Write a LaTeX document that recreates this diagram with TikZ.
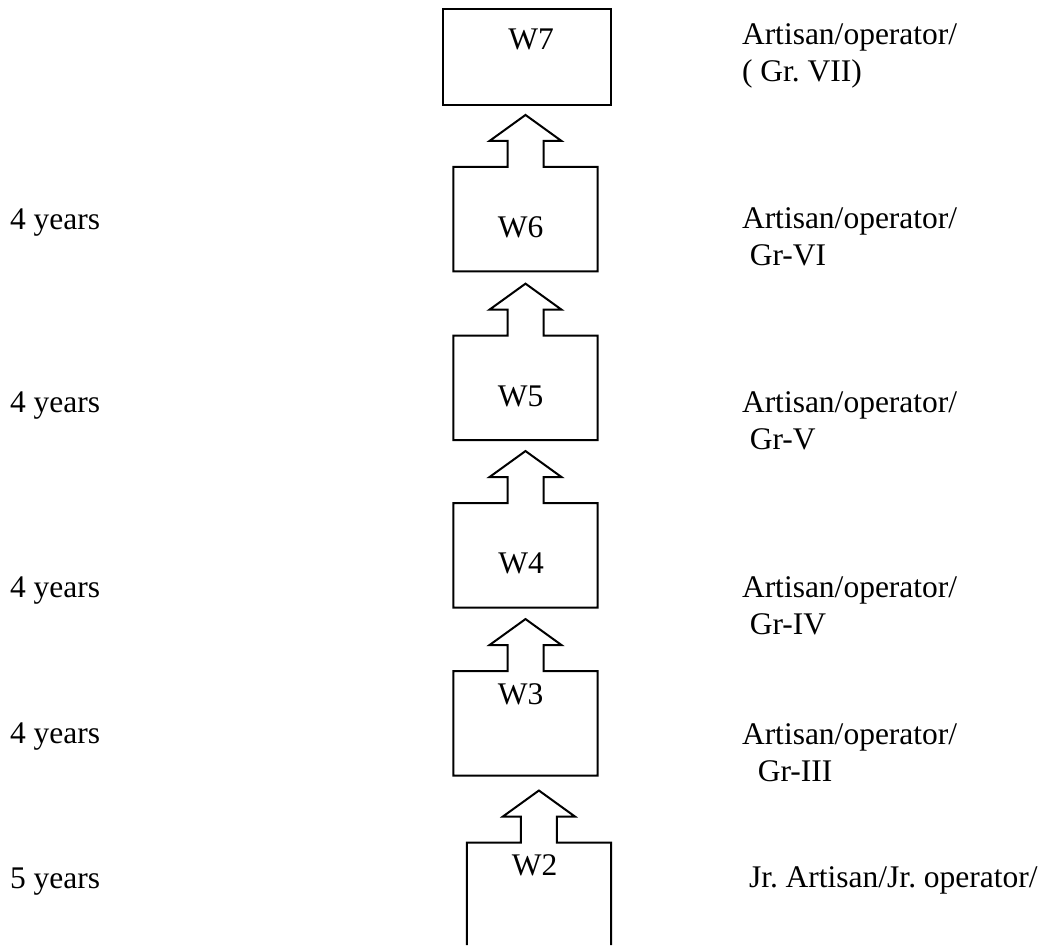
\documentclass[tikz,border=0pt]{standalone}
\usepackage{fontspec}
\setmainfont{Liberation Serif}
\usetikzlibrary{calc}
\frenchspacing
\tikzset{
  lab/.style={font=\fontsize{31.5}{37}\selectfont, inner sep=0pt, outer sep=0pt},
  outline/.style={draw=black, line width=2pt, line join=miter},
  boxarea/.style={inner sep=0pt, outer sep=0pt, minimum width=144.4pt, minimum height=104.5pt},
}
\newcommand{\arrowbox}[1]{%
  \draw[outline] ($(#1.north)+(-18,0)$) -| (#1.south west) -| (#1.north east)
    -- ($(#1.north)+(18,0)$) -- ++(0,-26) -- ++(18,0) -- ($(#1.north)+(0,-52)$)
    -- ($(#1.north)+(-36,-26)$) -- ++(18,0) -- cycle;}
\begin{document}
\begin{tikzpicture}[x=1pt,y=-1pt]
\useasboundingbox (0,0) rectangle (1051,945);
% boxes
\node[boxarea, outline, minimum width=168pt, minimum height=96pt] (b7) at (527,57) {};
\node[boxarea] (b6) at (525.5,219.2) {};
\node[boxarea] (b5) at (525.5,387.9) {};
\node[boxarea] (b4) at (525.5,555.3) {};
\node[boxarea] (b3) at (525.5,723.3) {};
\node[boxarea, minimum width=144.3pt, minimum height=102.5pt] (b2) at (538.9,893.75) {};
\arrowbox{b6}
\arrowbox{b5}
\arrowbox{b4}
\arrowbox{b3}
\draw[outline] (b2.south west) |- ($(b2.north)+(-18,0)$) -- ++(0,-26) -- ++(-18,0)
  -- ($(b2.north)+(0,-52)$) -- ($(b2.north)+(36,-26)$) -- ++(-18,0) -- ++(0,26)
  -| (b2.south east);
% box texts
\node[lab, anchor=base] (t7) at (531,49) {W7};
\node[lab, anchor=base] (t6) at (520.7,237.3) {W6};
\node[lab, anchor=base] (t5) at (520.5,406) {W5};
\node[lab, anchor=base] (t4) at (521,573.3) {W4};
\node[lab, anchor=base] (t3) at (520.5,704.3) {W3};
\node[lab, anchor=base] (t2) at (534.7,875) {W2};
% left texts
\node[lab, anchor=base west] (y6) at (10,229.3) {4 years};
\node[lab, anchor=base west] (y5) at (10,412.7) {4 years};
\node[lab, anchor=base west] (y4) at (10,597.3) {4 years};
\node[lab, anchor=base west] (y3) at (10,743.3) {4 years};
\node[lab, anchor=base west] (y2) at (10,888.3) {5 years};
% right texts (base = baseline of the last line)
\node[lab, anchor=base west, align=left] (r7) at (742,81.7) {Artisan/operator/\\( Gr. VII)};
\node[lab, anchor=base west, align=left] (r6) at (742,265.7) {Artisan/operator/\\\hspace*{0.25em}Gr-VI};
\node[lab, anchor=base west, align=left] (r5) at (742,449.5) {Artisan/operator/\\\hspace*{0.25em}Gr-V};
\node[lab, anchor=base west, align=left] (r4) at (742,634) {Artisan/operator/\\\hspace*{0.25em}Gr-IV};
\node[lab, anchor=base west, align=left] (r3) at (742,781.7) {Artisan/operator/\\\hspace*{0.5em}Gr-III};
\node[lab, anchor=base west] (r2) at (749,887.5) {Jr. Artisan/Jr. operator/};
\end{tikzpicture}
\end{document}
